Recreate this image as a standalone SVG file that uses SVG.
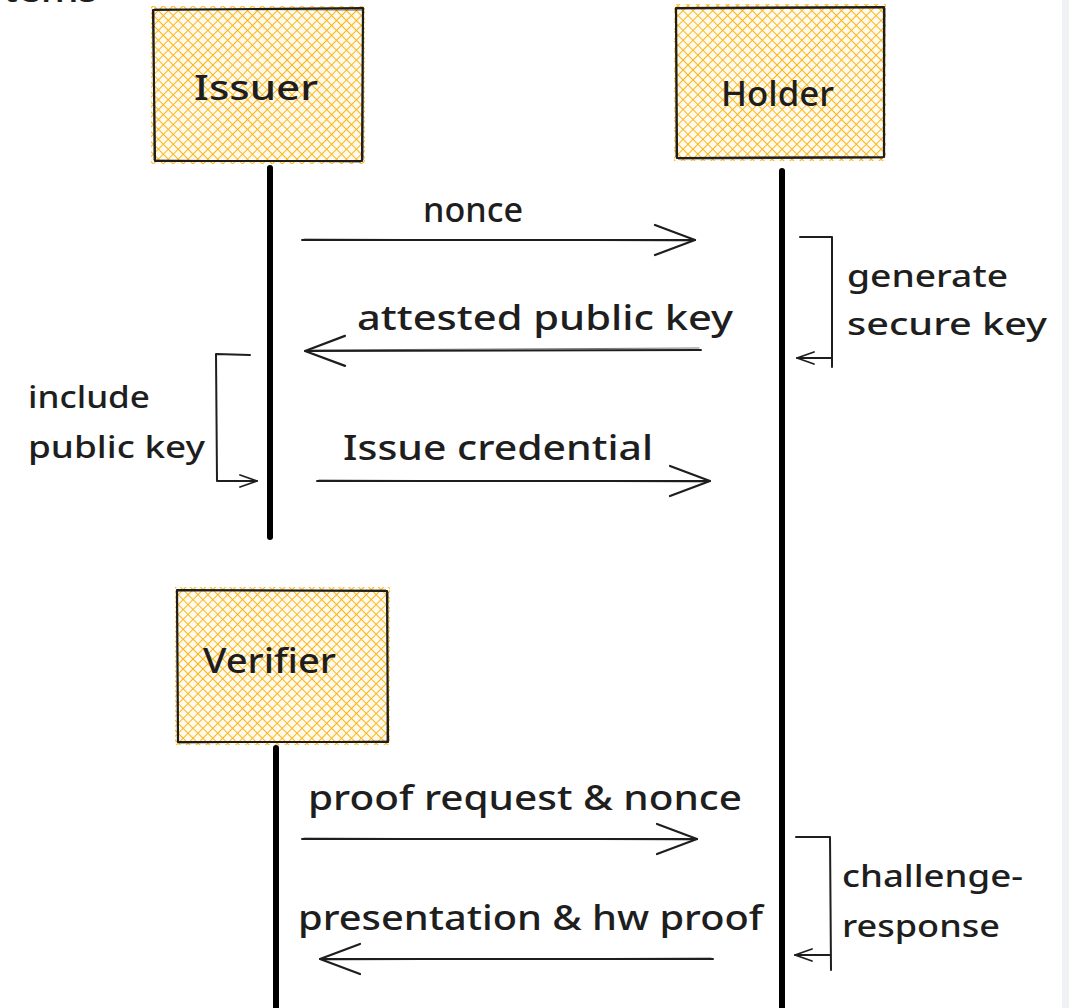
<svg xmlns="http://www.w3.org/2000/svg" width="1069" height="1008" viewBox="0 0 1069 1008">
  <style>
    .lbl{font-family:"Noto Sans","Open Sans",sans-serif;font-size:34px;font-weight:500;fill:#1e1e1e}
    .side{font-size:31px}
    .hatch{fill:url(#hatch)}
    .box{fill:none;stroke:#1e1e1e;stroke-width:2.2;stroke-linejoin:round}
    .box2{fill:none;stroke:#1e1e1e;stroke-width:1;opacity:.75}
    .life{stroke:#000;stroke-width:6;stroke-linecap:round}
    .msg{fill:none;stroke:#1e1e1e;stroke-width:2;stroke-linecap:round;stroke-linejoin:round}
    .msg2{fill:none;stroke:#1e1e1e;stroke-width:1;opacity:.6;stroke-linecap:round}
    .big{marker-end:url(#headBig)}
    .small{marker-end:url(#headSmall)}
  </style>
  <defs>
    <!-- cross-hatched yellow fill for the participant boxes -->
    <pattern id="hatch" width="7" height="7" patternUnits="userSpaceOnUse" patternTransform="rotate(45)">
      <rect width="7" height="7" fill="#fffaf0"/>
      <path d="M0 0H7M0 0V7" stroke="#fcb614" stroke-width="2"/>
    </pattern>
    <marker id="headBig" viewBox="-44 -18 48 36" refX="0" refY="0" markerWidth="48" markerHeight="36" markerUnits="userSpaceOnUse" orient="auto" overflow="visible">
      <path d="M-40 -15L0 0L-40 15" fill="none" stroke="#1e1e1e" stroke-width="2.2" stroke-linecap="round" stroke-linejoin="round"/>
    </marker>
    <marker id="headSmall" viewBox="-20 -8 24 16" refX="0" refY="0" markerWidth="24" markerHeight="16" markerUnits="userSpaceOnUse" orient="auto" overflow="visible">
      <path d="M-17 -6L0 0L-17 6" fill="none" stroke="#1e1e1e" stroke-width="1.8" stroke-linecap="round" stroke-linejoin="round"/>
    </marker>
  </defs>

  <rect width="1069" height="1008" fill="#ffffff"/>
  <rect x="1062" y="0" width="7" height="1008" fill="#f0f1f4"/>

  <!-- heading running off the top edge -->
  <text class="lbl" x="98" y="2" text-anchor="end" style="font-size:40px">stems</text>

  <g id="issuer">
    <rect class="hatch" x="151" y="6" width="214" height="158"/>
    <path class="box" d="M153 10L363 8L362 161L155 161Z"/>
    <path class="box2" d="M154 9L362 10M154 11L154 160M363 9L363 160M155 160L361 162"/>
    <text class="lbl" x="194" y="100" textLength="124" lengthAdjust="spacingAndGlyphs">Issuer</text>
    <line class="life" x1="270" y1="168" x2="270" y2="537"/>
  </g>

  <g id="holder">
    <rect class="hatch" x="674" y="4" width="212" height="157"/>
    <path class="box" d="M676 8L884 7L884 157L677 158Z"/>
    <path class="box2" d="M677 9L883 8M676 9L676 157M885 8L884 156M678 159L883 158"/>
    <text class="lbl" x="721" y="106" textLength="113" lengthAdjust="spacingAndGlyphs">Holder</text>
    <line class="life" x1="782" y1="171" x2="782" y2="1012"/>
  </g>

  <g id="verifier">
    <rect class="hatch" x="175" y="587" width="215" height="158"/>
    <path class="box" d="M177 590L387 591L388 742L178 742Z"/>
    <path class="box2" d="M178 591L386 590M177 591L178 741M388 592L387 741M179 743L387 741"/>
    <text class="lbl" x="203" y="673" textLength="133" lengthAdjust="spacingAndGlyphs">Verifier</text>
    <line class="life" x1="276" y1="748" x2="276" y2="1012"/>
  </g>

  <g id="connectors">
    <!-- Issuer -> Holder: nonce -->
    <path class="msg big" d="M302 240L695 240"/>
    <path class="msg2" d="M304 239L690 241"/>
    <text class="lbl" x="423" y="222" textLength="100" lengthAdjust="spacingAndGlyphs">nonce</text>

    <!-- Holder self-loop: generate secure key -->
    <path class="msg small" d="M800 237L832 237L832 367M832 358L797 358"/>
    <text class="lbl side" x="847" y="287" textLength="161" lengthAdjust="spacingAndGlyphs">generate</text>
    <text class="lbl side" x="847" y="335" textLength="200" lengthAdjust="spacingAndGlyphs">secure key</text>

    <!-- Holder -> Issuer: attested public key -->
    <path class="msg big" d="M701 350L305 351"/>
    <path class="msg2" d="M699 348L310 350"/>
    <text class="lbl" x="357" y="330" textLength="376" lengthAdjust="spacingAndGlyphs">attested public key</text>

    <!-- Issuer self-loop: include public key -->
    <path class="msg small" d="M250 355L216 354L217 481L257 481"/>
    <text class="lbl side" x="28" y="408" textLength="122" lengthAdjust="spacingAndGlyphs">include</text>
    <text class="lbl side" x="28" y="458" textLength="177" lengthAdjust="spacingAndGlyphs">public key</text>

    <!-- Issuer -> Holder: Issue credential -->
    <path class="msg big" d="M317 481L710 481"/>
    <path class="msg2" d="M319 480L705 482"/>
    <text class="lbl" x="343" y="460" textLength="310" lengthAdjust="spacingAndGlyphs">Issue credential</text>

    <!-- Verifier -> Holder: proof request & nonce -->
    <path class="msg big" d="M302 839L697 839"/>
    <path class="msg2" d="M304 838L692 840"/>
    <text class="lbl" x="308" y="810" textLength="434" lengthAdjust="spacingAndGlyphs">proof request &amp; nonce</text>

    <!-- Holder self-loop: challenge-response -->
    <path class="msg small" d="M796 837L830 837L831 970M831 955L795 955"/>
    <text class="lbl side" x="842" y="887" textLength="181" lengthAdjust="spacingAndGlyphs">challenge-</text>
    <text class="lbl side" x="842" y="937" textLength="158" lengthAdjust="spacingAndGlyphs">response</text>

    <!-- Holder -> Verifier: presentation & hw proof -->
    <path class="msg big" d="M713 959L320 959"/>
    <path class="msg2" d="M711 958L325 960"/>
    <text class="lbl" x="298" y="930" textLength="465" lengthAdjust="spacingAndGlyphs">presentation &amp; hw proof</text>
  </g>
</svg>
